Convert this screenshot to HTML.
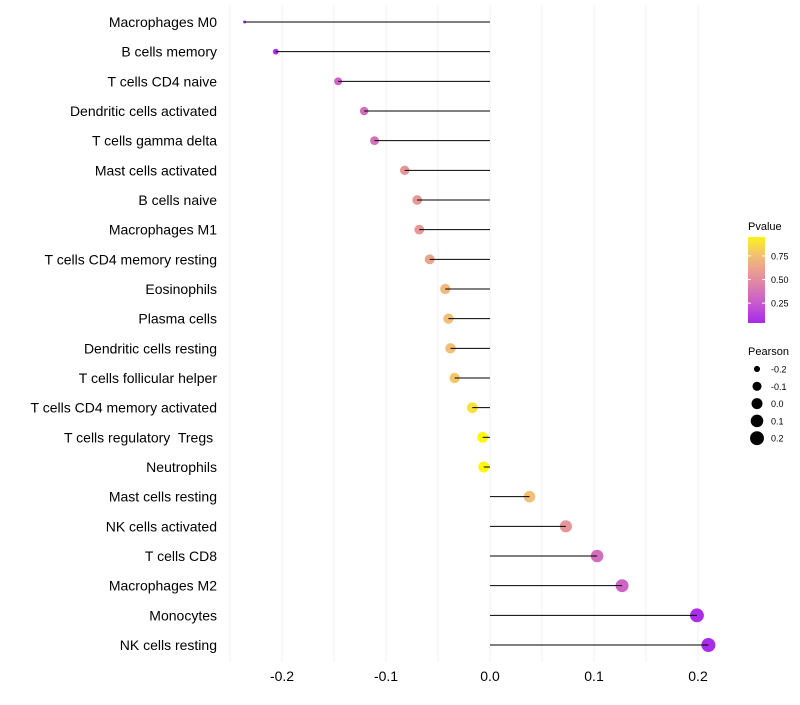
<!DOCTYPE html>
<html><head><meta charset="utf-8"><style>
body{margin:0;background:#fff;font-family:"Liberation Sans",sans-serif}
svg text{font-family:"Liberation Sans",sans-serif;white-space:pre}
</style></head><body>
<svg id="c" width="800" height="700"></svg>
<script>
const categories=["Macrophages M0","B cells memory","T cells CD4 naive","Dendritic cells activated","T cells gamma delta","Mast cells activated","B cells naive","Macrophages M1","T cells CD4 memory resting","Eosinophils","Plasma cells","Dendritic cells resting","T cells follicular helper","T cells CD4 memory activated","T cells regulatory  Tregs ","Neutrophils","Mast cells resting","NK cells activated","T cells CD8","Macrophages M2","Monocytes","NK cells resting"];
const pearson=[-0.236,-0.206,-0.146,-0.121,-0.111,-0.082,-0.070,-0.068,-0.058,-0.043,-0.040,-0.038,-0.034,-0.017,-0.007,-0.006,0.038,0.073,0.103,0.127,0.199,0.210];
const pvalue=[0.05,0.08,0.30,0.35,0.36,0.55,0.56,0.56,0.63,0.72,0.75,0.75,0.78,0.88,0.97,0.97,0.75,0.55,0.35,0.30,0.06,0.05];
const xTicks=[-0.2,-0.1,0.0,0.1,0.2];
const pTicks=[0.25,0.50,0.75];
const sizeTicks=[-0.2,-0.1,0.0,0.1,0.2];
const NS="http://www.w3.org/2000/svg",svg=document.getElementById('c');
function el(t,a,p){const e=document.createElementNS(NS,t);for(const k in a)e.setAttribute(k,a[k]);(p||svg).appendChild(e);return e;}
const X=v=>490+v*1040;
const Y=i=>22+i*29.667;
const pMin=Math.min(...pearson),pMax=Math.max(...pearson);
const R=v=>1.5+5.5*Math.sqrt(Math.max(0,(v-pMin)/(pMax-pMin)));
const stops=[[0,[160,32,240]],[0.25,[200,90,205]],[0.5,[225,140,160]],[0.75,[242,190,120]],[1,[255,255,0]]];
function col(p){for(let i=1;i<stops.length;i++){if(p<=stops[i][0]){const a=stops[i-1],b=stops[i],t=(p-a[0])/(b[0]-a[0]);return 'rgb('+a[1].map((c,j)=>Math.round(c+(b[1][j]-c)*t)).join(',')+')';}}return 'rgb(255,255,0)';}
for(let v=-0.25;v<=0.2001;v+=0.05){const g=el('line',{x1:X(v),x2:X(v),y1:5,y2:662,stroke:'#f0f0f0','stroke-width':1});

}
xTicks.forEach(v=>{const t=el('text',{x:X(v),y:681,'font-size':14,'text-anchor':'middle',fill:'#000'});t.textContent=v.toFixed(1);

});
categories.forEach((c,i)=>{
const t=el('text',{x:217,y:Y(i)+5,'font-size':14,'text-anchor':'end',fill:'#000'});t.textContent=c;


const d=el('circle',{cx:X(pearson[i]),cy:Y(i),r:R(pearson[i]),fill:col(pvalue[i])});


const l=el('line',{x1:X(0),x2:X(pearson[i]),y1:Y(i),y2:Y(i),stroke:'#000','stroke-width':1});


});
const defs=el('defs',{});const lg=el('linearGradient',{id:'gr',x1:0,y1:1,x2:0,y2:0},defs);
for(let k=0;k<=10;k++){const p=0.04+k/10*0.91;el('stop',{offset:k/10,'stop-color':col(p)},lg);}
const lt=el('text',{x:748,y:230,'font-size':11});lt.textContent='Pvalue';


const bar=el('rect',{x:748,y:237,width:17,height:86,fill:'url(#gr)'});


pTicks.forEach(p=>{const y=323-(p-0.04)/0.91*86;
el('line',{x1:748,x2:751,y1:y,y2:y,stroke:'#fff'});el('line',{x1:762,x2:765,y1:y,y2:y,stroke:'#fff'});
const t=el('text',{x:771,y:y+3.5,'font-size':9});t.textContent=p.toFixed(2);

});
const st=el('text',{x:748,y:355,'font-size':11});st.textContent='Pearson';


sizeTicks.forEach((v,k)=>{const y=369+k*17.3;
const c=el('circle',{cx:757,cy:y,r:R(v),fill:'#000'});


const t=el('text',{x:771,y:y+3.5,'font-size':9});t.textContent=v.toFixed(1);

});
</script>
</body></html>
